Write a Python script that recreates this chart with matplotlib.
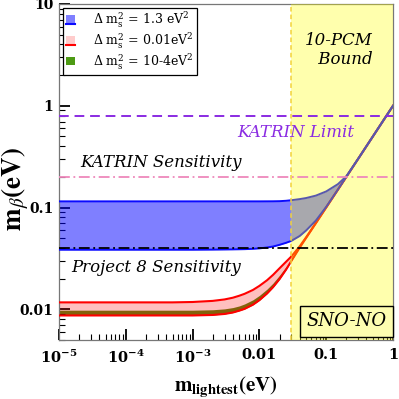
import matplotlib
matplotlib.use("Agg")
import matplotlib.pyplot as plt
from matplotlib.patches import Rectangle
from matplotlib.lines import Line2D
from matplotlib.legend_handler import HandlerBase

plt.rcParams['font.family'] = ['DejaVu Serif']
plt.rcParams['mathtext.fontset'] = 'dejavuserif'

# ---------------- data ----------------
m_light = [1e-5, 1e-4, 5e-4, 1e-3, 2e-3, 3e-3, 4e-3, 5e-3, 6e-3, 8e-3, 0.01, 0.013,
           0.016, 0.02, 0.025, 0.03, 0.04, 0.05, 0.07, 0.1, 0.15, 0.2, 0.3, 0.5, 0.7, 1.0]

blue_hi = [0.115, 0.115, 0.115, 0.115, 0.115, 0.115, 0.115, 0.115, 0.115, 0.115, 0.115, 0.1151,
           0.1152, 0.1155, 0.1165, 0.118, 0.121, 0.124, 0.131, 0.144, 0.170, 0.203, 0.301, 0.501, 0.701, 1.0]
blue_lo = [0.0385, 0.0385, 0.0385, 0.0385, 0.0386, 0.0387, 0.0388, 0.0389, 0.0390, 0.0393, 0.0397, 0.0405,
           0.0414, 0.0430, 0.0450, 0.0470, 0.0525, 0.0595, 0.0745, 0.1015, 0.1505, 0.2005, 0.3003, 0.5002, 0.7001, 1.0]

red_hi = [0.0117, 0.0117, 0.0117, 0.0118, 0.0121, 0.0125, 0.0130, 0.0136, 0.0142, 0.0155, 0.0170, 0.0193,
          0.0218, 0.0253, 0.0293, 0.0330, 0.0415, 0.0510, 0.0706, 0.1005, 0.1503, 0.2002, 0.3002, 0.5001, 0.7001, 1.0]
red_lo = [0.0087, 0.0087, 0.0087, 0.0087, 0.0088, 0.0090, 0.0093, 0.0097, 0.0101, 0.0111, 0.0123, 0.0143,
          0.0165, 0.0198, 0.0245, 0.0298, 0.0403, 0.0503, 0.0702, 0.1002, 0.1502, 0.2001, 0.3001, 0.5001, 0.7001, 1.0]

green_hi = [0.0098, 0.0098, 0.0098, 0.0098, 0.0099, 0.0101, 0.0104, 0.0108, 0.0113, 0.0124, 0.0137, 0.0158,
            0.0181, 0.0216, 0.0262, 0.0305, 0.0406, 0.0505, 0.0703, 0.1003, 0.1502, 0.2001, 0.3001, 0.5001, 0.7001, 1.0]
green_lo = red_lo

katrin_limit = 0.8
katrin_sens = 0.2
project8_sens = 0.04
pcm_bound = 0.03

legend_labels = [r'$\Delta\ \mathrm{m}_\mathrm{s}^2$ = 1.3 eV$^2$',
                 r'$\Delta\ \mathrm{m}_\mathrm{s}^2$ = 0.01eV$^2$',
                 r'$\Delta\ \mathrm{m}_\mathrm{s}^2$ = 10-4eV$^2$']

x_ticks = [1e-5, 1e-4, 1e-3, 0.01, 0.1, 1]
x_ticklabels = [r'$\mathbf{10^{-5}}$', r'$\mathbf{10^{-4}}$', r'$\mathbf{10^{-3}}$', '0.01', '0.1', '1']
y_ticks = [0.01, 0.1, 1, 10]
y_ticklabels = ['0.01', '0.1', '1', '10']

# ---------------- figure ----------------
fig = plt.figure(figsize=(3.99, 3.99), dpi=100)
ax = fig.add_axes([0.148, 0.148, 0.837, 0.842])
ax.set_xscale('log')
ax.set_yscale('log')
ax.set_xlim(1e-5, 1)
ax.set_ylim(0.005, 10)

green_c = '#4d9a14'
ax.fill_between(m_light, green_lo, green_hi, color='#5a8410', lw=0, zorder=1)
ax.fill_between(m_light, red_lo, red_hi, color='red', alpha=0.25, lw=0, zorder=2)
ax.fill_between(m_light, blue_lo, blue_hi, color='blue', alpha=0.5, lw=0, zorder=2)
ax.plot(m_light, red_hi, color='red', lw=1.5, zorder=3)
ax.plot(m_light, red_lo, color='red', lw=1.5, zorder=3)
ax.plot(m_light, blue_hi, color='#0a0aff', lw=1.4, zorder=3)
ax.plot(m_light, blue_lo, color='#0a0aff', lw=1.4, zorder=3)

ax.axvspan(pcm_bound, 1, color='#ffff00', alpha=0.32, lw=0, zorder=4)
ax.axvline(pcm_bound, color='#f2d23a', ls=(0, (3, 2)), lw=1.1, zorder=5)

ax.axhline(katrin_limit, color='#8a2be2', ls=(0, (5, 3)), lw=1.4, zorder=5)
ax.axhline(katrin_sens, color='#ee88bb', ls=(0, (6, 2, 1, 2)), lw=1.3, zorder=5)
ax.axhline(project8_sens, color='black', ls=(0, (6, 2, 1, 2)), lw=1.3, zorder=5)

tfs = 12
ax.text(0.0046, 0.54, 'KATRIN Limit', color='#8a2be2', style='italic', fontsize=tfs,
        ha='left', va='center', zorder=6)
ax.text(2.1e-5, 0.275, 'KATRIN Sensitivity', color='black', style='italic', fontsize=tfs,
        ha='left', va='center', zorder=6)
ax.text(1.5e-5, 0.0258, 'Project 8 Sensitivity', color='black', style='italic', fontsize=tfs,
        ha='left', va='center', zorder=6)
ax.text(0.5, 3.5, '10-PCM\n Bound', color='black', style='italic', fontsize=tfs,
        ha='right', va='center', linespacing=1.15, zorder=6)
ax.text(0.2, 0.0076, 'SNO-NO', color='black', style='italic', fontsize=tfs + 1,
        ha='center', va='center', zorder=6,
        bbox=dict(boxstyle='square,pad=0.35', facecolor='#fdfdb0', edgecolor='black', lw=1.0))

ax.set_xticks(x_ticks)
ax.set_xticklabels(x_ticklabels, fontweight='bold', fontsize=10.5)
ax.set_yticks(y_ticks)
ax.set_yticklabels(y_ticklabels, fontweight='bold', fontsize=10)
ax.tick_params(which='major', direction='in', length=8, width=1.3, color='black', pad=6)
ax.tick_params(axis='y', which='major', pad=4)
ax.tick_params(which='minor', direction='in', length=4, width=0.8, color='black')
ax.tick_params(top=False, right=False, which='both')
for s in ax.spines.values():
    s.set_color('#777777')
    s.set_linewidth(0.9)

xl = ax.set_xlabel(r'$\mathbf{m_{lightest}(eV)}$', fontsize=15)
xl.set_math_fontfamily('stix')
ax.xaxis.set_label_coords(0.5, -0.105)
yl = ax.set_ylabel(r'$\mathbf{m}_{\beta}\mathbf{(eV)}$', fontsize=19.5)
yl.set_math_fontfamily('stix')
ax.yaxis.set_label_coords(-0.085, 0.45)


class Band:
    def __init__(self, face, alpha, line):
        self.face, self.alpha, self.line = face, alpha, line


class BandHandler(HandlerBase):
    def create_artists(self, legend, h, xd, yd, width, height, fontsize, trans):
        r = Rectangle((-xd, -yd + height * 0.2), width, height * 0.8, facecolor=h.face,
                      alpha=h.alpha, edgecolor='none', transform=trans)
        arts = [r]
        if h.line:
            arts.append(Line2D([-xd, -xd + width], [-yd + height * 0.12] * 2, color=h.line,
                               lw=1.5, transform=trans))
        return arts


handles = [Band('blue', 0.5, '#0a0aff'), Band('red', 0.2, 'red'), Band(green_c, 1.0, None)]
leg = ax.legend(handles, legend_labels, handler_map={Band: BandHandler()},
                loc='upper left', bbox_to_anchor=(0.0, 1.0), fontsize=9,
                handlelength=0.7, handleheight=0.9, handletextpad=1.5,
                borderpad=0.25, labelspacing=0.1, borderaxespad=0.3,
                fancybox=False, framealpha=1, edgecolor='black')
leg.get_frame().set_linewidth(0.9)
leg.set_zorder(10)

fig.savefig('out.png', dpi=100)
